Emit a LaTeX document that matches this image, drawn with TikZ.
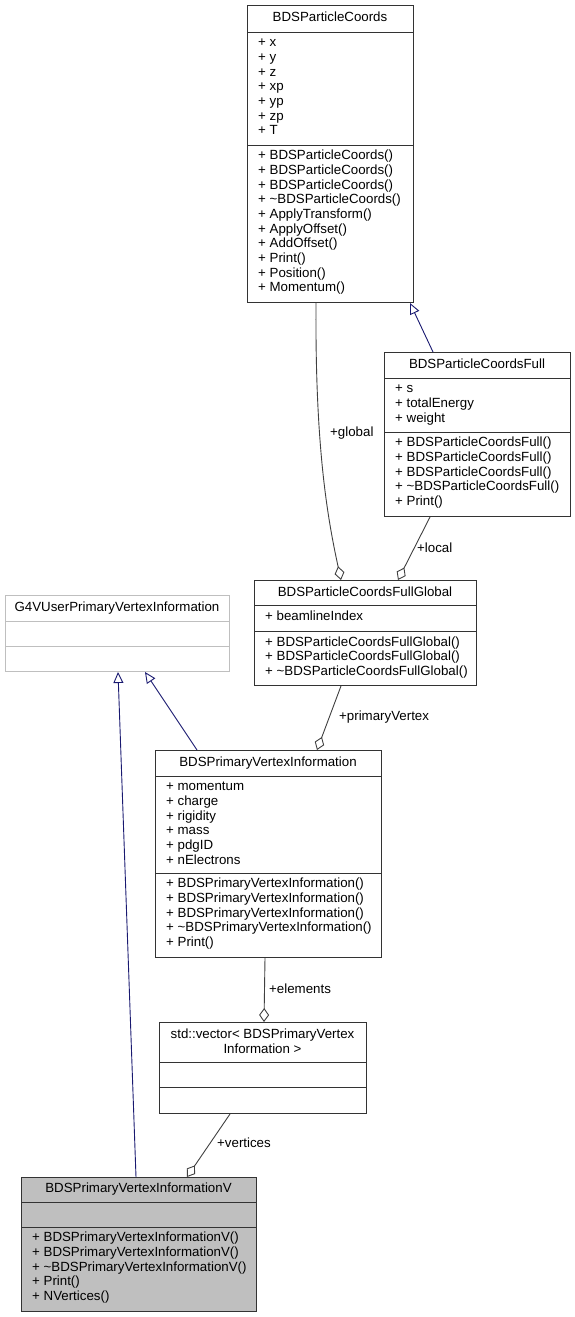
\documentclass[tikz,border=0pt]{standalone}
\usepackage{fontspec}
\setmainfont{Liberation Sans}
\usepackage{tikz}
\usetikzlibrary{positioning,calc,arrows.meta}
\newcommand{\fsz}{\fontsize{13.3}{14.7}\selectfont}
\tikzstyle{cls} = [draw=black!80, line width=1pt, inner sep=0pt, anchor=north west]
\tikzstyle{sep} = [draw=black!80, line width=1pt]
\tikzstyle{ttl} = [font=\fsz, anchor=base, inner sep=0pt]
\tikzstyle{mem} = [font=\fsz, align=left, anchor=north west, inner sep=0pt]
\tikzstyle{lbl} = [font=\fsz, anchor=west, inner sep=0pt]
\tikzstyle{aggr} = [line width=0.9pt, color=black!75, -{Diamond[open, length=14pt, width=10pt]}]
\tikzstyle{inh} = [line width=0.9pt, color=navy, -{Triangle[open, length=11pt, width=10pt]}]

\begin{document}
\begin{tikzpicture}[x=1pt,y=-1pt]
\definecolor{navy}{RGB}{25,25,112}
\useasboundingbox (0,0) rectangle (575,1317);
% BDSParticleCoords
\node[cls, minimum width=166, minimum height=297] (pc) at (247,5) {};
\draw[sep] (pc.west |- 0,32) -- (pc.east |- 0,32);
\draw[sep] (pc.west |- 0,145) -- (pc.east |- 0,145);
\node[ttl] (pctitle) at (330,21.5) {BDSParticleCoords};
\node[mem] (pcattr) at (258,36.2) {\strut+ x\\+ y\\+ z\\+ xp\\+ yp\\+ zp\\+ T};
\node[mem] (pcmeth) at (258,149.2) {\strut+ BDSParticleCoords()\\+ BDSParticleCoords()\\+ BDSParticleCoords()\\+ \textasciitilde BDSParticleCoords()\\+ ApplyTransform()\\+ ApplyOffset()\\+ AddOffset()\\+ Print()\\+ Position()\\+ Momentum()};
% BDSParticleCoordsFull
\node[cls, minimum width=186, minimum height=164] (pcf) at (384,352) {};
\draw[sep] (pcf.west |- 0,378) -- (pcf.east |- 0,378);
\draw[sep] (pcf.west |- 0,432) -- (pcf.east |- 0,432);
\node[ttl] (pcftitle) at (477,368) {BDSParticleCoordsFull};
\node[mem] (pcfattr) at (395,382.2) {\strut+ s\\+ totalEnergy\\+ weight};
\node[mem] (pcfmeth) at (395,436.2) {\strut+ BDSParticleCoordsFull()\\+ BDSParticleCoordsFull()\\+ BDSParticleCoordsFull()\\+ \textasciitilde BDSParticleCoordsFull()\\+ Print()};
% BDSParticleCoordsFullGlobal
\node[cls, minimum width=222, minimum height=105] (pcfg) at (254,580) {};
\draw[sep] (pcfg.west |- 0,605.5) -- (pcfg.east |- 0,605.5);
\draw[sep] (pcfg.west |- 0,631.5) -- (pcfg.east |- 0,631.5);
\node[ttl] (pcfgtitle) at (365,596) {BDSParticleCoordsFullGlobal};
\node[mem] (pcfgattr) at (265,609.7) {\strut+ beamlineIndex};
\node[mem] (pcfgmeth) at (265,635.7) {\strut+ BDSParticleCoordsFullGlobal()\\+ BDSParticleCoordsFullGlobal()\\+ \textasciitilde BDSParticleCoordsFullGlobal()};
% G4VUserPrimaryVertexInformation
\node[cls, draw=black!25, minimum width=224, minimum height=76] (g4v) at (5,595) {};
\draw[sep, draw=black!25] (g4v.west |- 0,621) -- (g4v.east |- 0,621);
\draw[sep, draw=black!25] (g4v.west |- 0,646) -- (g4v.east |- 0,646);
\node[ttl] (g4vtitle) at (117,611.5) {G4VUserPrimaryVertexInformation};
% BDSPrimaryVertexInformation
\node[cls, minimum width=226, minimum height=207] (pvi) at (155,750) {};
\draw[sep] (pvi.west |- 0,776) -- (pvi.east |- 0,776);
\draw[sep] (pvi.west |- 0,873) -- (pvi.east |- 0,873);
\node[ttl] (pvititle) at (268,766.5) {BDSPrimaryVertexInformation};
\node[mem] (pviattr) at (166,780.2) {\strut+ momentum\\+ charge\\+ rigidity\\+ mass\\+ pdgID\\+ nElectrons};
\node[mem] (pvimeth) at (166,877.2) {\strut+ BDSPrimaryVertexInformation()\\+ BDSPrimaryVertexInformation()\\+ BDSPrimaryVertexInformation()\\+ \textasciitilde BDSPrimaryVertexInformation()\\+ Print()};
% std::vector
\node[cls, minimum width=207, minimum height=91] (vec) at (159,1022) {};
\draw[sep] (vec.west |- 0,1062) -- (vec.east |- 0,1062);
\draw[sep] (vec.west |- 0,1087) -- (vec.east |- 0,1087);
\node[ttl, align=center, anchor=north] (vectitle) at (262.5,1028.2) {\strut std::vector< BDSPrimaryVertex\\Information >};
% BDSPrimaryVertexInformationV
\node[cls, fill=black!25, minimum width=235, minimum height=134] (pviv) at (21,1177) {};
\draw[sep] (pviv.west |- 0,1202) -- (pviv.east |- 0,1202);
\draw[sep] (pviv.west |- 0,1227) -- (pviv.east |- 0,1227);
\node[ttl] (pvivtitle) at (138.5,1192.5) {BDSPrimaryVertexInformationV};
\node[mem] (pvivmeth) at (32,1231.2) {\strut+ BDSPrimaryVertexInformationV()\\+ BDSPrimaryVertexInformationV()\\+ \textasciitilde BDSPrimaryVertexInformationV()\\+ Print()\\+ NVertices()};
% inheritance
\draw[inh] ($(pcf.north west)+(49,0)$) -- ($(pc.south west)+(163,0)$);
\draw[inh] ($(pvi.north west)+(42,0)$) -- ($(g4v.south west)+(140,0)$);
\draw[inh] ($(pviv.north west)+(115,0)$) -- ($(g4v.south west)+(113,0)$);
% members
\draw[aggr] ($(pc.south west)+(69,0)$) .. controls (315,450) and (328,520) .. ($(pcfg.north west)+(87,0)$);
\draw[aggr] ($(pcf.south west)+(46,0)$) -- ($(pcfg.north west)+(144,0)$);
\draw[aggr] ($(pcfg.south west)+(87,0)$) -- ($(pvi.north west)+(162,0)$);
\draw[aggr] ($(pvi.south west)+(110,0)$) -- ($(vec.north west)+(105,0)$);
\draw[aggr] ($(vec.south west)+(71,0)$) -- ($(pviv.north west)+(166,0)$);
\node[lbl] (lglobal) at (330,433) {+global};
\node[lbl] (llocal) at (417,548) {+local};
\node[lbl] (lprimary) at (339,717) {+primaryVertex};
\node[lbl] (lelements) at (269,989) {+elements};
\node[lbl] (lvertices) at (217,1143) {+vertices};
\end{tikzpicture}
\end{document}
